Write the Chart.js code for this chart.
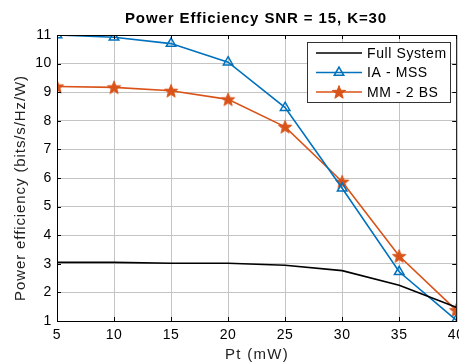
<!DOCTYPE html>
<html>
<head>
<meta charset="utf-8">
<script src="https://cdn.jsdelivr.net/npm/chart.js@4/dist/chart.umd.min.js"></script>
<style>
  html, body { margin: 0; padding: 0; background: #fff; overflow: hidden; }
  #wrap { width: 470px; height: 364px; position: relative; }
</style>
</head>
<body>
<div id="wrap"><canvas id="chart"></canvas></div>
<script>
// values
const pt = [5, 10, 15, 20, 25, 30, 35, 40];
const fullSystem = [3.05, 3.05, 3.02, 3.02, 2.95, 2.76, 2.25, 1.48];
const iaMss = [11.0, 10.92, 10.7, 10.05, 8.46, 5.64, 2.72, 1.03];
const mm2bs = [9.2, 9.17, 9.05, 8.75, 7.79, 5.87, 3.27, 1.38];
const xTicks = [5, 10, 15, 20, 25, 30, 35, 40];
const yTicks = [1, 2, 3, 4, 5, 6, 7, 8, 9, 10, 11];

const titleText = 'Power Efficiency SNR = 15, K=30';
const xLabel = 'Pt (mW)';
const yLabel = 'Power efficiency (bits/s/Hz/W)';

const BLUE = '#0072BD';
const ORANGE = '#D95319';
const FONT = '"Liberation Sans", Arial, sans-serif';

// filled pentagram marker, like matlab's 'p'
function makeStar(color, r) {
  const c = document.createElement('canvas');
  const s = Math.ceil(r * 2 + 2);
  c.width = s; c.height = s;
  const g = c.getContext('2d');
  g.beginPath();
  for (let i = 0; i < 10; i++) {
    const rad = i % 2 === 0 ? r : r * 0.42;
    const a = -Math.PI / 2 + i * Math.PI / 5;
    const px = s / 2 + rad * Math.cos(a);
    const py = s / 2 + rad * Math.sin(a) + 0.6;
    if (i === 0) g.moveTo(px, py); else g.lineTo(px, py);
  }
  g.closePath();
  g.fillStyle = color;
  g.fill();
  g.strokeStyle = color;
  g.lineWidth = 1;
  g.stroke();
  return c;
}
const starImg = makeStar(ORANGE, 7);

// spaced-out text, the reference fonts look a bit wide
const spacing = {
  id: 'spacing',
  beforeDraw(chart) { chart.ctx.letterSpacing = '0.6px'; },
  afterDraw(chart) { chart.ctx.letterSpacing = '0px'; }
};

// box, inward ticks, titles and legend drawn in matlab style
const matlabFrame = {
  id: 'matlabFrame',
  afterDraw(chart) {
    const { ctx, chartArea: a, scales } = chart;
    ctx.save();
    ctx.strokeStyle = '#000';
    ctx.lineWidth = 1;
    ctx.strokeRect(a.left + 0.5, a.top + 0.5, a.right - a.left, a.bottom - a.top);
    ctx.beginPath();
    xTicks.forEach(v => {
      const x = Math.round(scales.x.getPixelForValue(v)) + 0.5;
      ctx.moveTo(x, a.bottom); ctx.lineTo(x, a.bottom - 4);
      ctx.moveTo(x, a.top); ctx.lineTo(x, a.top + 4);
    });
    yTicks.forEach(v => {
      const y = Math.round(scales.y.getPixelForValue(v)) + 0.5;
      ctx.moveTo(a.left, y); ctx.lineTo(a.left + 4, y);
      ctx.moveTo(a.right, y); ctx.lineTo(a.right - 4, y);
    });
    ctx.stroke();

    // titles
    ctx.fillStyle = '#000';
    ctx.textAlign = 'center';
    ctx.textBaseline = 'middle';
    ctx.letterSpacing = '0.9px';
    ctx.font = 'bold 15px ' + FONT;
    ctx.fillText(titleText, 256, 19);
    ctx.fillStyle = '#222';
    ctx.font = '15px ' + FONT;
    ctx.letterSpacing = '1.3px';
    ctx.fillText(xLabel, 257, 355);
    ctx.save();
    ctx.translate(21, 188);
    ctx.rotate(-Math.PI / 2);
    ctx.letterSpacing = '0.9px';
    ctx.fillText(yLabel, 0, 0);
    ctx.restore();

    // legend
    const lx = 307, ly = 42, lw = 143, lh = 60;
    ctx.fillStyle = '#fff';
    ctx.fillRect(lx, ly, lw, lh);
    ctx.strokeStyle = '#333';
    ctx.lineWidth = 1;
    ctx.strokeRect(lx + 0.5, ly + 0.5, lw, lh);
    const items = [
      { text: 'Full System', color: '#000', marker: null },
      { text: 'IA - MSS', color: BLUE, marker: 'triangle' },
      { text: 'MM - 2 BS', color: ORANGE, marker: 'star' }
    ];
    ctx.font = '14px ' + FONT;
    ctx.letterSpacing = '0.6px';
    ctx.textAlign = 'left';
    items.forEach((it, i) => {
      const y = ly + 11 + i * 19.5;
      ctx.strokeStyle = it.color;
      ctx.lineWidth = 1.5;
      ctx.beginPath();
      ctx.moveTo(lx + 9, y); ctx.lineTo(lx + 55, y);
      ctx.stroke();
      if (it.marker === 'triangle') {
        ctx.fillStyle = 'rgba(255,255,255,0)';
        Chart.helpers.drawPoint(ctx, { pointStyle: 'triangle', radius: 5.5, borderWidth: 1.5 }, lx + 32, y);
      } else if (it.marker === 'star') {
        ctx.drawImage(starImg, lx + 32 - starImg.width / 2, y - starImg.height / 2);
      }
      ctx.fillStyle = '#000';
      ctx.fillText(it.text, lx + 60, y + 1);
    });
    ctx.restore();
  }
};

new Chart(document.getElementById('chart'), {
  type: 'line',
  data: {
    labels: pt,
    datasets: [
      {
        label: 'Full System',
        data: pt.map((x, i) => ({ x, y: fullSystem[i] })),
        borderColor: '#000',
        borderWidth: 1.6,
        pointRadius: 0,
        tension: 0
      },
      {
        label: 'IA - MSS',
        data: pt.map((x, i) => ({ x, y: iaMss[i] })),
        borderColor: BLUE,
        backgroundColor: 'rgba(0,0,0,0)',
        borderWidth: 1.6,
        pointStyle: 'triangle',
        pointRadius: 5.5,
        pointBorderWidth: 1.5,
        pointBorderColor: BLUE,
        pointBackgroundColor: 'rgba(255,255,255,0)',
        tension: 0
      },
      {
        label: 'MM - 2 BS',
        data: pt.map((x, i) => ({ x, y: mm2bs[i] })),
        borderColor: ORANGE,
        borderWidth: 1.6,
        pointStyle: starImg,
        pointRadius: 6,
        tension: 0
      }
    ]
  },
  options: {
    responsive: true,
    maintainAspectRatio: false,
    animation: false,
    layout: { padding: { top: 35, right: 0, bottom: 0, left: 0 } },
    plugins: {
      legend: { display: false },
      tooltip: { enabled: false },
      title: { display: false }
    },
    scales: {
      x: {
        type: 'linear',
        min: 5,
        max: 40,
        afterBuildTicks(scale) { scale.ticks = xTicks.map(v => ({ value: v })); },
        afterFit(scale) { scale.height = 43; },
        ticks: { color: '#000', font: { family: FONT, size: 14 }, padding: 6, maxRotation: 0 },
        grid: { color: '#c4c4c4', drawTicks: false },
        border: { display: false }
      },
      y: {
        min: 1,
        max: 11,
        afterBuildTicks(scale) { scale.ticks = yTicks.map(v => ({ value: v })); },
        afterFit(scale) { scale.width = 57; },
        ticks: { color: '#000', font: { family: FONT, size: 14 }, padding: 5 },
        grid: { color: '#c4c4c4', drawTicks: false },
        border: { display: false }
      }
    }
  },
  plugins: [spacing, matlabFrame]
});
</script>
</body>
</html>
